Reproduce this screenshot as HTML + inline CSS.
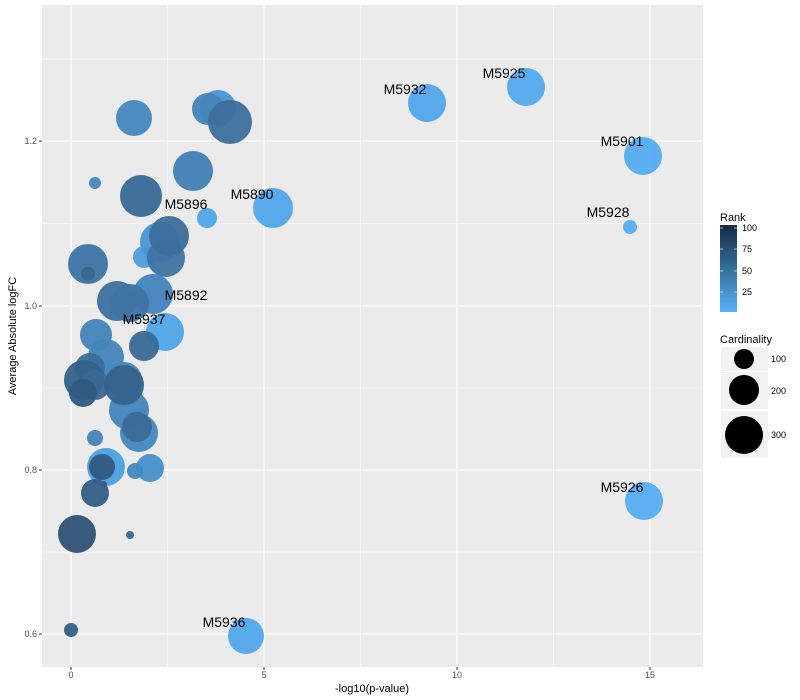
<!DOCTYPE html>
<html><head><style>body{margin:0;background:#fff}svg{display:block;font-family:"Liberation Sans",sans-serif}</style></head><body>
<svg width="800" height="700" viewBox="0 0 800 700">
<defs><linearGradient id="g" x1="0" y1="1" x2="0" y2="0"><stop offset="0" stop-color="#56B1F7"/><stop offset="1" stop-color="#132B43"/></linearGradient></defs>
<rect x="42" y="5" width="661" height="662" fill="#ebebeb"/>
<g stroke="#fff" stroke-width="0.6">
<line x1="167.5" y1="5" x2="167.5" y2="667"/><line x1="360.5" y1="5" x2="360.5" y2="667"/><line x1="553.5" y1="5" x2="553.5" y2="667"/>
<line x1="42" y1="59" x2="703" y2="59"/><line x1="42" y1="223.5" x2="703" y2="223.5"/><line x1="42" y1="388" x2="703" y2="388"/><line x1="42" y1="552" x2="703" y2="552"/>
</g>
<g stroke="#fff" stroke-width="1.2">
<line x1="71" y1="5" x2="71" y2="667"/><line x1="264" y1="5" x2="264" y2="667"/><line x1="457" y1="5" x2="457" y2="667"/><line x1="650" y1="5" x2="650" y2="667"/>
<line x1="42" y1="141" x2="703" y2="141"/><line x1="42" y1="306" x2="703" y2="306"/><line x1="42" y1="470" x2="703" y2="470"/><line x1="42" y1="634" x2="703" y2="634"/>
</g>
<g fill-opacity="0.95">
<circle cx="134" cy="118" r="18" fill="#4488c0"/>
<circle cx="218" cy="108" r="18" fill="#4a97d6"/>
<circle cx="208" cy="109" r="16" fill="#4384bb"/>
<circle cx="230" cy="122" r="22" fill="#3d6f9c"/>
<circle cx="193" cy="171" r="20" fill="#417fb5"/>
<circle cx="95" cy="183" r="6" fill="#4488c0"/>
<circle cx="141" cy="196" r="21" fill="#386996"/>
<circle cx="207" cy="218" r="10" fill="#50a5e8"/>
<circle cx="273" cy="208" r="20" fill="#51a6ea"/>
<circle cx="144" cy="257" r="11" fill="#4d9edd"/>
<circle cx="160" cy="242" r="20" fill="#4a96d4"/>
<circle cx="166" cy="258" r="19" fill="#3f73a3"/>
<circle cx="169" cy="236" r="20" fill="#3c6e9b"/>
<circle cx="88" cy="264" r="20" fill="#3e74a5"/>
<circle cx="88" cy="274" r="7" fill="#3a6590"/>
<circle cx="153" cy="294" r="20" fill="#4384bd"/>
<circle cx="117" cy="301" r="20" fill="#3c70a0"/>
<circle cx="130" cy="303" r="19" fill="#3e73a4"/>
<circle cx="165" cy="332" r="19" fill="#50a5e8"/>
<circle cx="96" cy="335" r="16" fill="#4384bb"/>
<circle cx="144" cy="346" r="15" fill="#386996"/>
<circle cx="106" cy="357" r="18" fill="#4384bb"/>
<circle cx="90" cy="368" r="15" fill="#3c6e9b"/>
<circle cx="124" cy="380" r="18" fill="#4487c0"/>
<circle cx="84" cy="380" r="20" fill="#34618a"/>
<circle cx="95" cy="385" r="15" fill="#3a6893"/>
<circle cx="83" cy="393" r="14" fill="#305a82"/>
<circle cx="129" cy="410" r="20" fill="#4384bd"/>
<circle cx="139" cy="433" r="19" fill="#4488c0"/>
<circle cx="124" cy="385" r="20" fill="#34628c"/>
<circle cx="137" cy="427" r="15" fill="#3b6a96"/>
<circle cx="95" cy="438" r="8" fill="#4384bb"/>
<circle cx="106" cy="467" r="19" fill="#4da0e2"/>
<circle cx="102" cy="467" r="13" fill="#325a80"/>
<circle cx="150" cy="468" r="14" fill="#4690cc"/>
<circle cx="135" cy="471" r="8" fill="#4488c0"/>
<circle cx="95" cy="493" r="14" fill="#345e86"/>
<circle cx="104" cy="484" r="3" fill="#345e86"/>
<circle cx="77" cy="534" r="19" fill="#2f5275"/>
<circle cx="130" cy="535" r="4" fill="#3a6893"/>
<circle cx="71" cy="630" r="7" fill="#34608a"/>
<circle cx="246" cy="636" r="18" fill="#52a8ed"/>
<circle cx="427" cy="103" r="19" fill="#51a6ea"/>
<circle cx="526" cy="87" r="19" fill="#53aaee"/>
<circle cx="643" cy="156" r="19" fill="#54acf1"/>
<circle cx="630" cy="227" r="7" fill="#55aef3"/>
<circle cx="644" cy="501" r="19" fill="#55aef3"/>
</g>
<g font-size="14" fill="#000" text-anchor="middle" dominant-baseline="central">
<text x="405" y="89">M5932</text><text x="504" y="73">M5925</text><text x="622" y="141">M5901</text>
<text x="608" y="212">M5928</text><text x="622" y="487">M5926</text><text x="224" y="622">M5936</text>
<text x="252" y="194">M5890</text><text x="186" y="204">M5896</text><text x="186" y="295">M5892</text><text x="144" y="319">M5937</text>
</g>
<g stroke="#333" stroke-width="1">
<line x1="71" y1="667" x2="71" y2="670"/><line x1="264" y1="667" x2="264" y2="670"/><line x1="457" y1="667" x2="457" y2="670"/><line x1="650" y1="667" x2="650" y2="670"/>
<line x1="39" y1="141" x2="42" y2="141"/><line x1="39" y1="306" x2="42" y2="306"/><line x1="39" y1="470" x2="42" y2="470"/><line x1="39" y1="634" x2="42" y2="634"/>
</g>
<g font-size="9" fill="#4d4d4d">
<g text-anchor="middle"><text x="71" y="678">0</text><text x="264" y="678">5</text><text x="457" y="678">10</text><text x="650" y="678">15</text></g>
<g text-anchor="end"><text x="37" y="144">1.2</text><text x="37" y="309">1.0</text><text x="37" y="473">0.8</text><text x="37" y="637">0.6</text></g>
</g>
<text x="372" y="692" font-size="11" text-anchor="middle">-log10(p-value)</text>
<text transform="translate(16,336) rotate(-90)" font-size="11" text-anchor="middle">Average Absolute logFC</text>
<text x="720" y="221" font-size="11">Rank</text>
<rect x="720" y="225" width="17" height="87" fill="url(#g)"/>
<g stroke="#fff" stroke-width="0.6"><line x1="720" y1="228" x2="723" y2="228"/><line x1="734" y1="228" x2="737" y2="228"/><line x1="720" y1="249" x2="723" y2="249"/><line x1="734" y1="249" x2="737" y2="249"/><line x1="720" y1="271" x2="723" y2="271"/><line x1="734" y1="271" x2="737" y2="271"/><line x1="720" y1="292" x2="723" y2="292"/><line x1="734" y1="292" x2="737" y2="292"/></g>
<g font-size="9" fill="#000"><text x="742" y="231">100</text><text x="742" y="252">75</text><text x="742" y="274">50</text><text x="742" y="295">25</text></g>
<text x="720" y="343" font-size="11">Cardinality</text>
<rect x="721" y="347" width="47" height="24" fill="#f2f2f2"/>
<rect x="721" y="372" width="47" height="37" fill="#f2f2f2"/>
<rect x="721" y="411" width="47" height="47" fill="#f2f2f2"/>
<circle cx="744" cy="359" r="10" fill="#000"/>
<circle cx="744" cy="390" r="15" fill="#000"/>
<circle cx="744" cy="435" r="19" fill="#000"/>
<g font-size="9" fill="#000"><text x="771" y="362">100</text><text x="771" y="394">200</text><text x="771" y="438">300</text></g>
</svg>
</body></html>
